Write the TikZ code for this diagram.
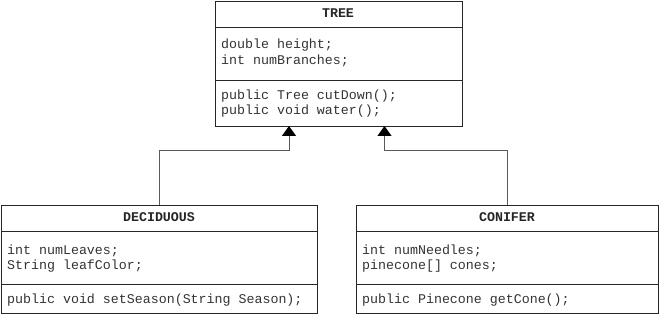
\documentclass[tikz,border=0pt]{standalone}
\usepackage{fontspec}
\setmonofont{Liberation Mono}
\usetikzlibrary{arrows.meta}
\begin{document}
\begin{tikzpicture}[x=1pt,y=-1pt,
  box/.style={draw=black!85, line width=1pt, inner sep=0pt, anchor=north west, minimum width=#1},
  txt/.style={anchor=base west, inner sep=0pt, font=\ttfamily\fontsize{13.3}{16}\selectfont, text=black!80},
  hdr/.style={anchor=base, inner sep=0pt, font=\ttfamily\bfseries\fontsize{13.3}{16}\selectfont, text=black!85},
  link/.style={draw=black!65, line width=1pt},
  inh/.style={-{Triangle[width=14pt,length=10pt,color=black]}}
]
\useasboundingbox (0,0) rectangle (659,315);

% TREE
\node[box=246.5pt, minimum height=26pt] (th) at (215,1) {};
\node[box=246.5pt, minimum height=53pt] (ta) at (215,27) {};
\node[box=246.5pt, minimum height=46pt] (tm) at (215,80) {};
\node[hdr] (tht) at (338,17.5) {TREE};
\node[txt] (ta1) at (221,49) {double height;};
\node[txt] (ta2) at (221,65) {int numBranches;};
\node[txt] (tm1) at (221,100) {public Tree cutDown();};
\node[txt] (tm2) at (221,115) {public void water();};

% DECIDUOUS
\node[box=316pt, minimum height=26pt] (dh) at (1,205) {};
\node[box=316pt, minimum height=53pt] (da) at (1,231) {};
\node[box=316pt, minimum height=29pt] (dm) at (1,284) {};
\node[hdr] (dht) at (159,221.5) {DECIDUOUS};
\node[txt] (da1) at (7,255) {int numLeaves;};
\node[txt] (da2) at (7,270) {String leafColor;};
\node[txt] (dm1) at (7,303) {public void setSeason(String Season);};

% CONIFER
\node[box=302pt, minimum height=26pt] (ch) at (356,205) {};
\node[box=302pt, minimum height=53pt] (ca) at (356,231) {};
\node[box=302pt, minimum height=29pt] (cm) at (356,284) {};
\node[hdr] (cht) at (507,221.5) {CONIFER};
\node[txt] (ca1) at (362,255) {int numNeedles;};
\node[txt] (ca2) at (362,270) {pinecone[] cones;};
\node[txt] (cm1) at (362,303) {public Pinecone getCone();};

% connectors
\coordinate (t1) at (289,126);
\coordinate (t2) at (384.5,126);
\coordinate (d1) at (159.5,205);
\coordinate (c1) at (507.5,205);
\coordinate (k1) at (159.5,151);
\coordinate (k2) at (507.5,151);
\draw[link,inh] (d1) -- (k1) -| (t1);
\draw[link,inh] (c1) -- (k2) -| (t2);
\end{tikzpicture}
\end{document}
